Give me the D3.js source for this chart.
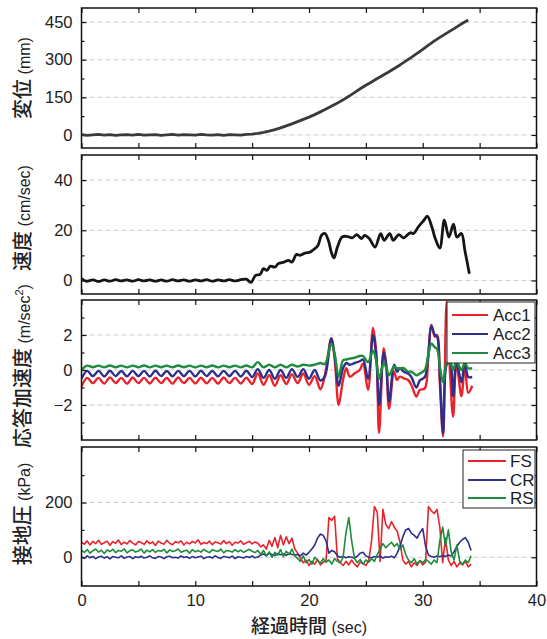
<!DOCTYPE html>
<html><head><meta charset="utf-8">
<script src="https://cdn.jsdelivr.net/npm/d3@7"></script>
<style>body{margin:0;background:#fff}</style>
</head><body>
<script>
// ---------------- DATA ----------------
const xTickLabels = [0, 10, 20, 30, 40];
const xTickMarks = [0, 5, 10, 15, 20, 25, 30, 35, 40];

// Panel 1: displacement (mm), sampled every 0.5 s from 0 s
const dispStart = 0, dispStep = 0.5;
const dispValues = [1,-2,0,2,-1,1,-2,0,1,-1, 2,-1,0,1,-2,0,2,-1,1,0, -1,2,0,-1,1,-2,1,0,-1,2,
  3,6,10,15,21,28,36,44,53,62,71,81,92,103,115,127,140,154,169,184,198,211,225,238,251,265,279,294,309,325,341,358,374,389,403,417,431,445,458];
const dispTicks = [0,150,300,450], dispMinor = [75,225,375];

// Panel 2: velocity (cm/sec)
const velTime = [0,0.4,1,1.5,2,2.5,3,3.5,4,4.5,5,5.5,6,6.5,7,7.5,8,8.5,9,9.5,10,10.5,11,11.5,12,12.5,13,13.5,14,14.5,14.9,
  15.3,15.7,16.0,16.3,16.6,17.0,17.3,17.8,18.2,18.5,18.9,19.2,19.7,20.1,20.6,20.8,21.1,21.4,21.7,22.0,22.2,22.5,22.9,23.3,23.8,24.2,24.6,24.9,25.3,25.8,26.3,26.6,27.1,27.4,27.9,28.3,28.9,29.2,29.6,30.1,30.4,30.8,31.1,31.5,31.9,32.3,32.7,33.0,33.4,33.7,34.1];
const velValues = [0.8,-0.3,0.2,-0.4,0.2,-0.3,0.3,-0.2,0.2,-0.3,0.3,-0.2,0.2,-0.3,0.2,-0.3,0.3,-0.2,0.2,-0.3,0.2,-0.2,0.3,-0.3,0.2,-0.2,0.3,-0.2,0.3,0.5,-0.8,
  2,2.4,4.7,4,5.7,5.3,6.7,7.3,8,7.3,10.4,10,11,11.3,13,14,18,18.7,16,10.7,9,13.3,17.3,17.6,17,18.3,16.7,18,16.7,13.3,18.7,16,18.7,16,18.3,17,19,18.7,21.3,24,25.6,21.3,16.7,12.9,24,17.3,22.4,17.3,18.7,12,2.7];
const velTicks = [0,20,40], velMinor = [10,30];

// Panel 3: response acceleration (m/sec^2)
const accTime = [0,0.5,1,1.5,2,2.5,3,3.5,4,4.5,5,5.5,6,6.5,7,7.5,8,8.5,9,9.5,10,10.5,11,11.5,12,12.5,13,13.5,14,14.5,15,15.5,16,16.5,17,17.5,18,18.5,19,19.5,20,20.5,21,
  21.4,21.96,22.26,22.61,22.99,23.28,23.58,24.02,24.46,24.75,25.19,25.63,25.92,26.16,26.57,26.8,27.04,27.48,27.74,27.98,28.33,28.71,29.0,29.44,29.74,30.18,30.47,30.76,31.06,31.26,31.5,31.79,32.1,32.4,32.67,32.96,33.4,33.7,34.0,34.35];
const acc1 = [-0.95,-0.45,-0.75,-0.45,-0.78,-0.42,-0.75,-0.45,-0.78,-0.43,-0.75,-0.45,-0.77,-0.44,-0.75,-0.46,-0.78,-0.43,-0.75,-0.45,-0.77,-0.44,-0.76,-0.45,-0.78,-0.43,-0.75,-0.45,-0.77,-0.44,-0.8,-0.2,-0.85,-0.3,-0.9,-0.3,-0.8,-0.25,-0.75,-0.2,-0.85,-0.35,-1.1,
  -0.3,1.8,0.6,-2.0,-0.57,0.1,-0.38,-0.19,0.0,0.38,-1.14,2.4,0.95,-3.6,1.24,0.2,-2.2,-0.1,-0.57,-0.38,-0.48,-0.57,-0.86,-1.52,-1.14,-1.05,0.57,2.57,1.9,2.0,-0.76,-3.8,3.9,-0.2,-2.67,0.4,-1.5,0.3,-1.3,-0.9];
const acc2 = [-0.5,-0.05,-0.35,-0.05,-0.37,-0.04,-0.35,-0.06,-0.36,-0.05,-0.35,-0.05,-0.37,-0.04,-0.35,-0.06,-0.36,-0.05,-0.35,-0.05,-0.37,-0.04,-0.35,-0.06,-0.36,-0.05,-0.35,-0.05,-0.37,-0.04,-0.4,0.05,-0.45,0.0,-0.5,0.0,-0.45,0.05,-0.4,0.05,-0.5,0.0,-0.6,
  -0.35,1.8,0.8,-0.9,0.1,0.4,0.3,0.4,0.5,0.6,-0.5,2.0,0.7,-2.0,1.0,0.2,-1.8,0.3,-0.1,0.1,-0.1,-0.2,-0.4,-1.0,-0.6,-0.4,0.8,2.5,2.0,1.9,-0.3,-3.6,0.3,0.5,-1.5,0.5,-0.7,0.5,-0.4,-0.4];
const acc3 = [0.0,0.25,0.16,0.25,0.15,0.26,0.16,0.25,0.15,0.25,0.16,0.26,0.15,0.25,0.16,0.25,0.15,0.26,0.16,0.25,0.15,0.25,0.16,0.26,0.15,0.25,0.16,0.25,0.15,0.26,0.15,0.45,0.15,0.3,0.15,0.3,0.15,0.3,0.2,0.3,0.25,0.3,0.4,
  0.35,1.5,0.9,-0.4,0.55,0.6,0.65,0.7,0.8,0.8,0.45,1.1,0.5,-0.5,0.4,0.1,-0.3,0.2,0.1,0.1,0.1,-0.1,-0.1,-0.3,-0.2,0.0,0.8,1.5,1.3,1.2,0.2,-0.7,0.4,0.5,0.0,0.5,0.0,0.4,0.1,0.1];
const accTicks = [-2,0,2], accMinor = [-3,-1,1,3];
const accNames = ["Acc1","Acc2","Acc3"];

// Panel 4: contact pressure (kPa), sampled every 0.25 s from 0 s
const pressStart = 0, pressStep = 0.25;
const fs = [55,48,60,45,58,50,62,47,53,59, 44,57,51,63,46,55,49,61,52,45, 58,54,47,60,50,56,43,59,52,48,
  62,51,46,57,53,60,45,55,49,58, 52,64,47,54,50,59,46,56,53,48, 61,50,57,44,55,52,60,47,53,58, 49,56,51,
  38,45,30,62,40,72,35,80,45,75,50,70,30,
  15,-5,-20,-10,-30,-15,-25,-8,-28,-18,-12,
  145,135,150,-5,
  -20,-30,-15,-28,-10,-25,-35,-18,-22,-30,-12,
  60,185,165,-15,175,120,105,130,110,95,55,-10,
  -25,-15,-35,-20,-30,-12,-28,-18,
  185,170,160,175,110,-20,
  70,-10,-30,-15,-35,-20,-28,-15,-35,-25];
const cr = [2,-4,5,-2,3,-5,1,4,-3,2, -6,3,0,-2,5,-4,1,3,-5,2, -1,4,-3,0,5,-2,-4,3,1,-5,
  2,4,-2,0,-3,5,-1,2,-4,3, -2,1,4,-5,0,2,-3,5,-1,-4, 3,1,-2,4,-5,2,0,-3,3,-1, 5,-2,1,
  8,12,5,15,10,6,14,9,12,7,15,10,8,
  10,5,15,8,18,30,45,70,85,80,60,
  15,25,20,5,
  0,3,-2,2,0,-3,4,15,18,5,0,
  -2,3,0,5,-3,2,0,4,-2,15,40,75,
  100,105,88,80,70,90,105,40,
  8,3,0,5,2,6,
  3,8,5,20,40,55,65,72,55,25];
const rs = [25,18,28,15,24,30,19,26,14,27, 21,29,17,25,22,31,16,24,27,19, 23,30,15,26,20,28,18,25,22,29,
  16,27,21,24,30,18,23,26,15,28, 20,25,19,29,22,17,27,24,21,30, 16,25,23,19,28,20,26,18,24,29, 22,17,25,
  10,25,5,20,0,18,8,28,3,22,10,30,5,
  -5,-15,5,-20,-8,-25,0,-12,-22,-5,-18,
  -10,-25,-5,-15,
  -20,0,90,145,60,-5,-20,-8,-25,-10,-18,
  -5,-15,10,30,50,35,45,55,40,50,30,45,
  10,-10,-20,-5,-25,-12,-20,-8,
  -15,-25,-10,-20,60,110,
  40,100,20,-10,45,-15,-25,-10,-20,5];
const pressTicks = [0,200], pressMinor = [100,300];
const pressNames = ["FS","CR","RS"];

const colors = ["#e8232b","#2e2f8a","#1f8b3e"];

// ---------------- LAYOUT ----------------
const W = 547, H = 639;
const L = 81.5, R = 536.5;
const latin = "'Liberation Sans', Arial, sans-serif";
const cjk = "'Noto Sans CJK JP', sans-serif";

const svg = d3.select("body").append("svg").attr("width", W).attr("height", H);
const x = d3.scaleLinear().domain([0, 40]).range([L, R]);

function panel(cfg) {
  const y = d3.scaleLinear().domain(cfg.domain).range([cfg.bottom, cfg.top]);
  const g = svg.append("g");
  const id = "clip" + cfg.top;
  svg.append("clipPath").attr("id", id).append("rect")
    .attr("x", L).attr("y", cfg.top).attr("width", R - L).attr("height", cfg.bottom - cfg.top);
  g.selectAll(".grid").data(cfg.major).join("line")
    .attr("x1", L).attr("x2", R).attr("y1", d => y(d)).attr("y2", d => y(d))
    .attr("stroke", "#c8c8c8").attr("stroke-width", 0.9).attr("stroke-dasharray", "5,3");
  const ax = (a) => { a.select(".domain").remove(); a.selectAll("line").attr("stroke", "#111").attr("stroke-width", 1.2); };
  g.append("g").attr("transform", `translate(${L},0)`)
    .call(d3.axisLeft(y).tickValues(cfg.major).tickSize(-5).tickPadding(9))
    .call(ax).selectAll("text").attr("font-family", latin).attr("font-size", 16.5).attr("fill", "#222");
  g.append("g").attr("transform", `translate(${L},0)`)
    .call(d3.axisLeft(y).tickValues(cfg.minor).tickSize(-3).tickFormat("")).call(ax);
  g.append("g").attr("transform", `translate(${R},0)`)
    .call(d3.axisRight(y).tickValues(cfg.major).tickSize(-5).tickFormat("")).call(ax);
  g.append("g").attr("transform", `translate(${R},0)`)
    .call(d3.axisRight(y).tickValues(cfg.minor).tickSize(-3).tickFormat("")).call(ax);
  g.append("g").attr("transform", `translate(0,${cfg.top})`)
    .call(d3.axisTop(x).tickValues(xTickMarks).tickSize(-5).tickFormat("")).call(ax);
  const b = g.append("g").attr("transform", `translate(0,${cfg.bottom})`)
    .call(d3.axisBottom(x).tickValues(xTickMarks).tickSize(-5)
      .tickFormat(d => cfg.xlabels && xTickLabels.includes(d) ? d : "").tickPadding(8)).call(ax);
  b.selectAll("text").attr("font-family", latin).attr("font-size", 16.5).attr("fill", "#222");
  const lg = g.append("g").attr("clip-path", `url(#${id})`);
  cfg.series.forEach(s => {
    lg.append("path").datum(s.data)
      .attr("fill", "none").attr("stroke", s.color).attr("stroke-width", s.width)
      .attr("stroke-linejoin", "round")
      .attr("d", d3.line().x(d => x(d[0])).y(d => y(d[1])).curve(s.curve || d3.curveLinear));
  });
  g.append("rect").attr("x", L).attr("y", cfg.top).attr("width", R - L).attr("height", cfg.bottom - cfg.top)
    .attr("fill", "none").attr("stroke", "#111").attr("stroke-width", 1.5);
  const t = g.append("text").attr("transform", `translate(${cfg.labelX},${cfg.labelY}) rotate(-90)`)
    .attr("text-anchor", "middle").attr("fill", "#222");
  t.append("tspan").attr("font-family", cjk).attr("font-size", 20).attr("font-weight", 500).text(cfg.label[0]);
  t.append("tspan").attr("font-family", latin).attr("font-size", 16).text(cfg.label[1]);
  if (cfg.label[2]) {
    t.append("tspan").attr("font-family", latin).attr("font-size", 11).attr("dy", -7).text(cfg.label[2]);
    t.append("tspan").attr("font-family", latin).attr("font-size", 16).attr("dy", 7).text(cfg.label[3]);
  }
  if (cfg.legend) {
    const lgd = cfg.legend;
    g.append("rect").attr("x", lgd.x0).attr("y", lgd.y0).attr("width", lgd.x1 - lgd.x0).attr("height", lgd.y1 - lgd.y0)
      .attr("fill", "#fff").attr("stroke", "#222").attr("stroke-width", 1);
    lgd.names.forEach((n, i) => {
      const yy = lgd.rows[i];
      g.append("line").attr("x1", lgd.l0).attr("x2", lgd.l1).attr("y1", yy).attr("y2", yy)
        .attr("stroke", colors[i]).attr("stroke-width", 2.2);
      g.append("text").attr("x", lgd.tx).attr("y", yy + 6).attr("font-family", latin)
        .attr("font-size", 17).attr("fill", "#222").text(n);
    });
  }
  return y;
}

const pts = (start, step, vals) => vals.map((v, i) => [start + i * step, v]);
const zipT = (ts, vals) => vals.map((v, i) => [ts[i], v]);

panel({
  top: 8, bottom: 148, domain: [-52, 506], major: dispTicks, minor: dispMinor,
  label: ["変位", " (mm)"], labelX: 30, labelY: 78,
  series: [{ data: pts(dispStart, dispStep, dispValues), color: "#3a3a3a", width: 2.8 }]
});
panel({
  top: 155, bottom: 294, domain: [-5.4, 50], major: velTicks, minor: velMinor,
  label: ["速度", " (cm/sec)"], labelX: 30, labelY: 218,
  series: [{ data: zipT(velTime, velValues), color: "#151515", width: 2.8, curve: d3.curveCatmullRom.alpha(0.5) }]
});
panel({
  top: 300, bottom: 440, domain: [-4, 4], major: accTicks, minor: accMinor,
  label: ["応答加速度", " (m/sec", "2", ")"], labelX: 30, labelY: 366,
  series: [acc1, acc2, acc3].map((a, i) => ({ data: zipT(accTime, a), color: colors[i], width: 2.4, curve: d3.curveCatmullRom.alpha(0.5) })),
  legend: { x0: 447, x1: 535, y0: 302, y1: 363, rows: [315, 334, 353], l0: 452, l1: 488, tx: 493, names: accNames }
});
panel({
  top: 447, bottom: 586, domain: [-105, 403], major: pressTicks, minor: pressMinor, xlabels: true,
  label: ["接地圧", " (kPa)"], labelX: 30, labelY: 514,
  series: [fs, cr, rs].map((a, i) => ({ data: pts(pressStart, pressStep, a), color: colors[i], width: 1.6 })),
  legend: { x0: 463, x1: 535, y0: 450, y1: 508, rows: [461, 480, 498], l0: 468, l1: 506, tx: 510, names: pressNames }
});

const xt = svg.append("text").attr("x", (L + R) / 2).attr("y", 633).attr("text-anchor", "middle").attr("fill", "#222");
xt.append("tspan").attr("font-family", cjk).attr("font-size", 19).attr("font-weight", 500).text("経過時間");
xt.append("tspan").attr("font-family", latin).attr("font-size", 16).text(" (sec)");
</script>
</body></html>
